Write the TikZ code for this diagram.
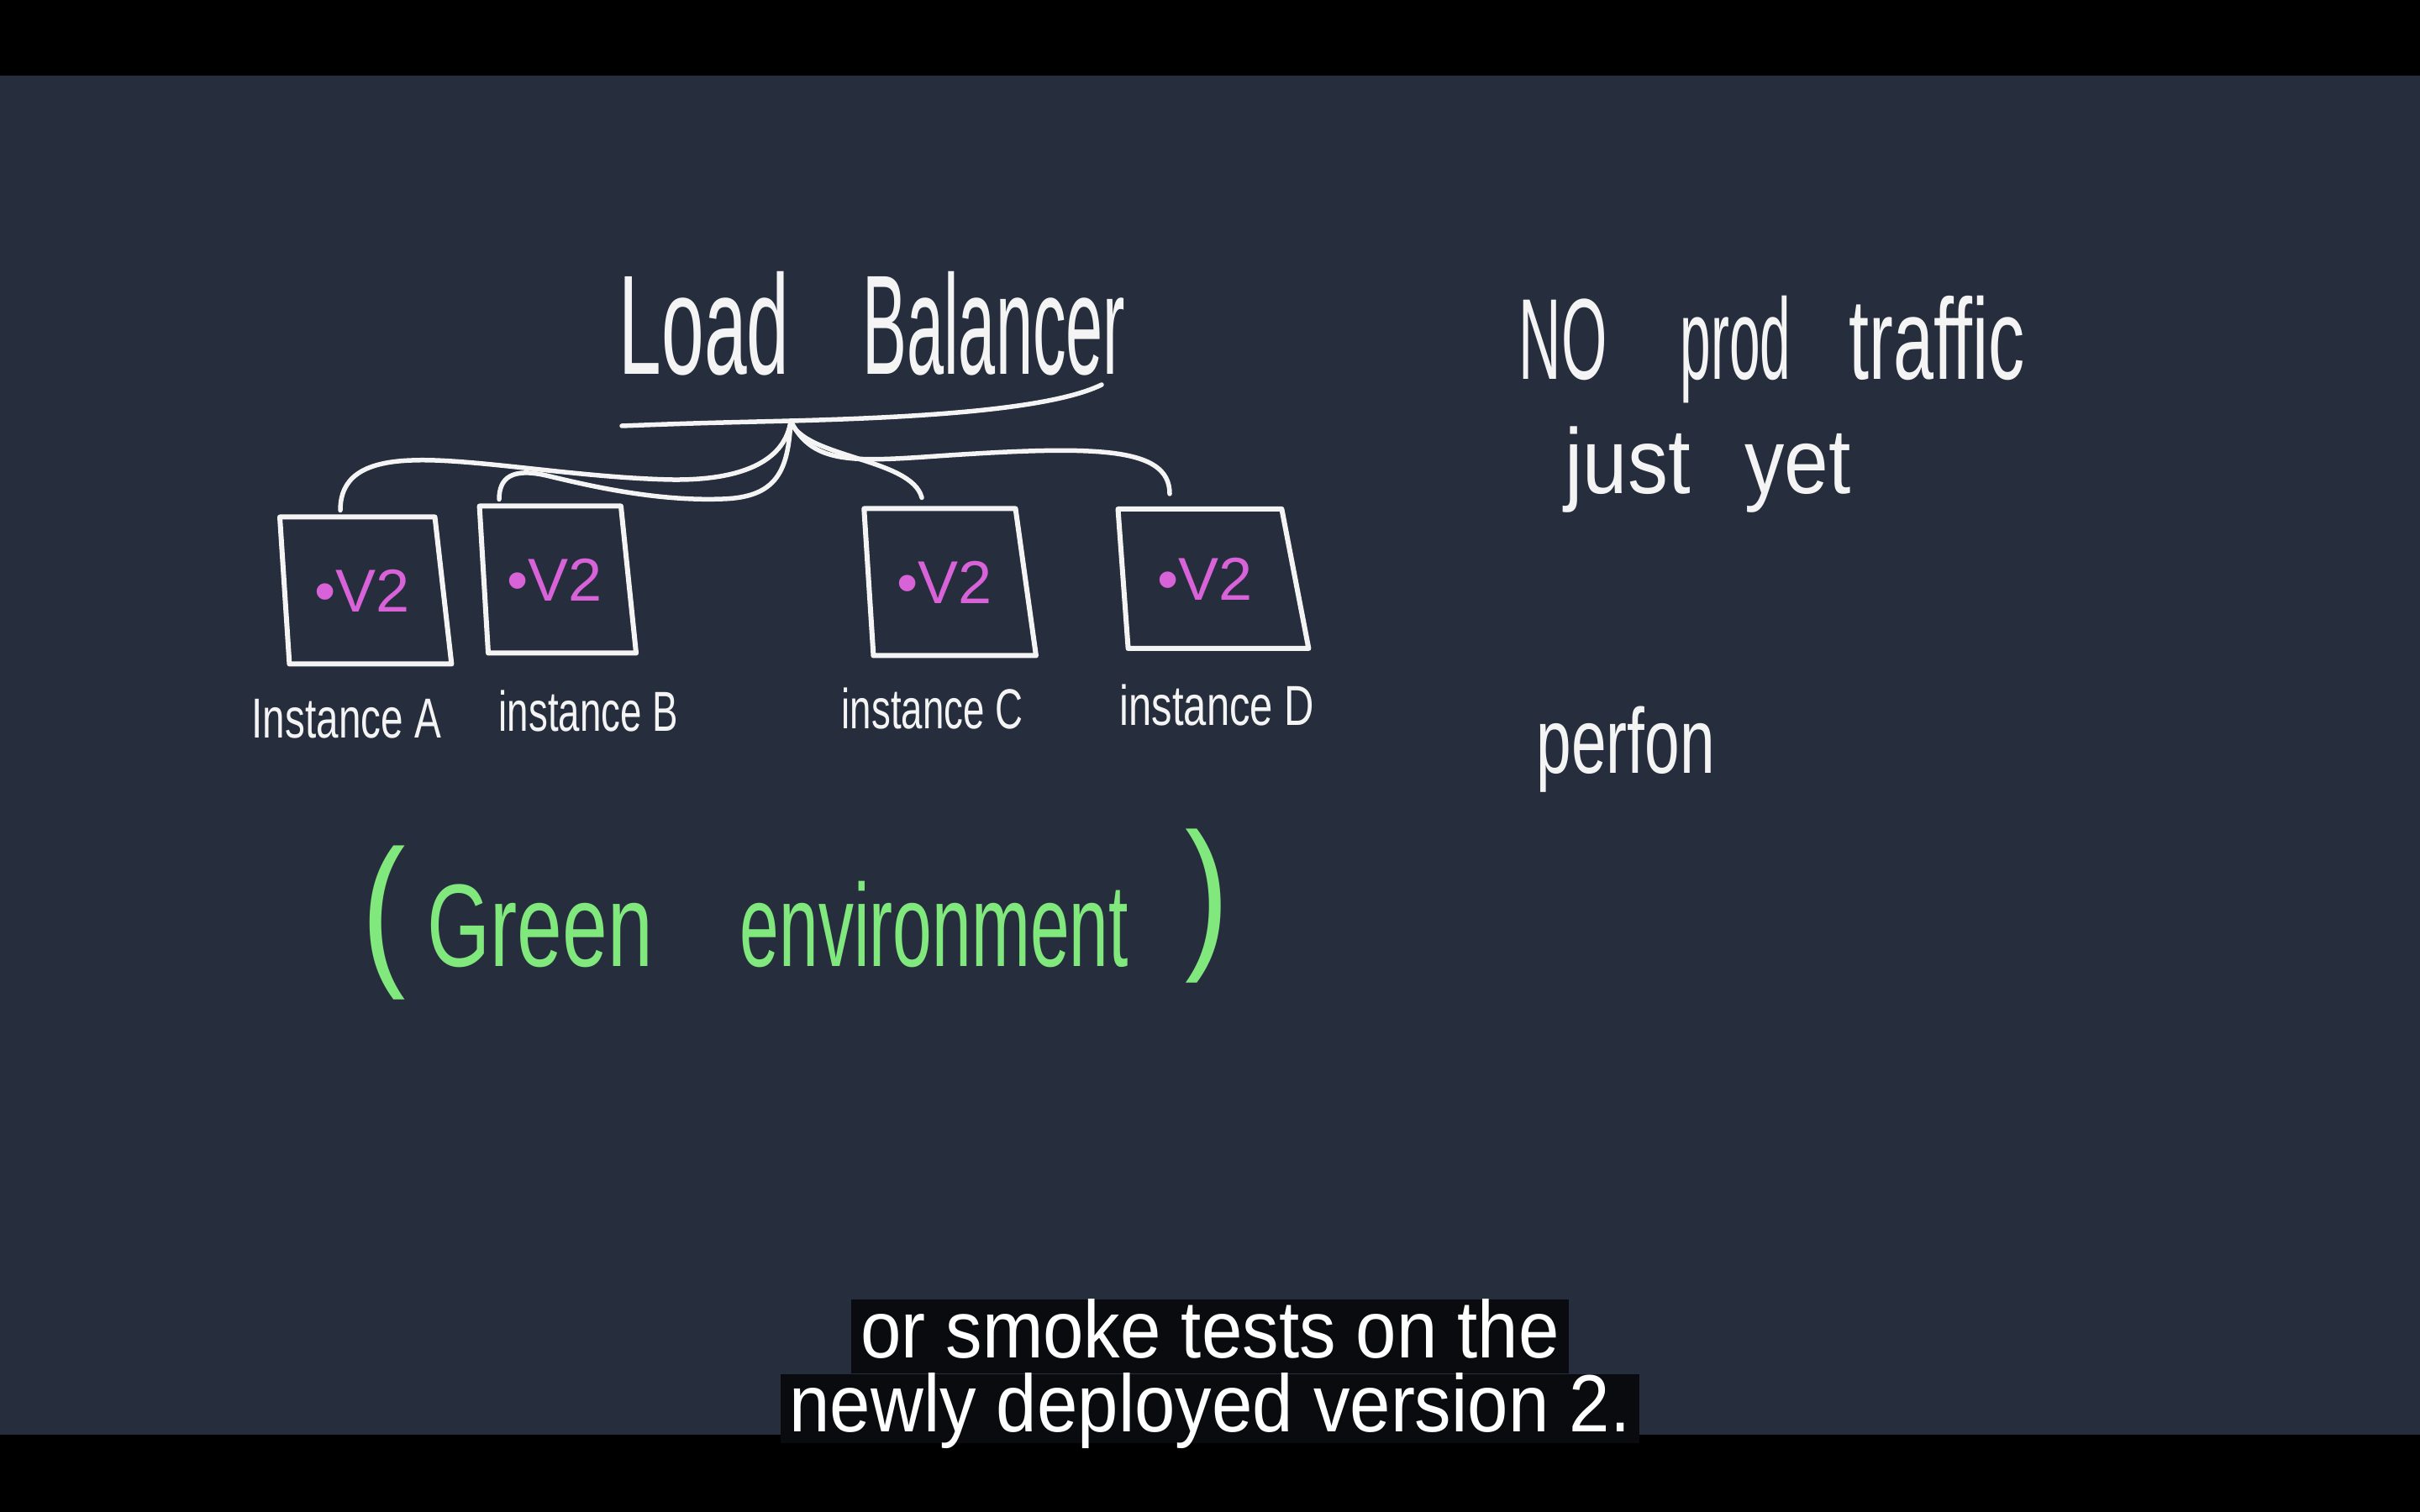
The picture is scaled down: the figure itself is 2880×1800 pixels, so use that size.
\documentclass[tikz,border=0pt]{standalone}
\usepackage{fontspec}
\setmainfont{Liberation Sans}
\usepackage{graphicx}
\usetikzlibrary{positioning,shapes.geometric}

\definecolor{board}{HTML}{262E3D}
\definecolor{capbox}{HTML}{0A0B0F}
\definecolor{chalk}{HTML}{F4F4F4}
\definecolor{vtwo}{HTML}{D862D8}
\definecolor{greenink}{HTML}{80E87C}

\newcommand{\squeeze}[2]{\scalebox{#1}[1]{#2}}

\begin{document}
\begin{tikzpicture}[
    x=0.1mm, y=-0.1mm,
    hand/.style={text=chalk, inner sep=0pt, anchor=base west},
    server/.style={shape=trapezium, draw=chalk, line width=0.6mm, line join=round,
                   trapezium left angle=97, trapezium right angle=78,
                   trapezium stretches=true, minimum height=17.5mm,
                   text=vtwo, font=\fontsize{20.5}{24}\selectfont},
    link/.style={draw=chalk, line width=0.55mm, line cap=round},
    caption/.style={fill=capbox, text=white, inner xsep=1.1mm, inner ysep=0pt,
                    font=\fontsize{27.5}{32}\selectfont}
]
% board and letterbox bars
\fill[board] (0,0) rectangle (2880,1800);
\fill[black] (0,0) rectangle (2880,90);
\fill[black] (0,1708) rectangle (2880,1800);

% load balancer
\node[hand, font=\fontsize{48}{54}\selectfont] (lbtitle) at (736,446)
    {\squeeze{0.54}{Load}\hspace{8.7mm}\squeeze{0.47}{Balancer}};
\coordinate (hub) at (941,501);
\draw[link] (740,507) .. controls (820,504) .. (hub)
    .. controls (1090,497) and (1250,488) .. (1311,458);

% green instances
\node[server, minimum width=20.5mm] (boxA) at (431,703) {\textbullet V2};
\node[server, minimum width=18.7mm] (boxB) at (660,690) {\textbullet V2};
\node[server, minimum width=20.5mm, trapezium right angle=75] (boxC) at (1124,693) {\textbullet V2};
\node[server, minimum width=22.8mm, minimum height=16.6mm,
      trapezium right angle=72] (boxD) at (1434,689) {\textbullet V2};

\node[hand, font=\fontsize{19.1}{22}\selectfont] (labA) at (299,878) {\squeeze{0.71}{Instance A}};
\node[hand, font=\fontsize{19.1}{22}\selectfont] (labB) at (593,870) {\squeeze{0.68}{instance B}};
\node[hand, font=\fontsize{19.1}{22}\selectfont] (labC) at (1001,867) {\squeeze{0.68}{instance C}};
\node[hand, font=\fontsize{19.1}{22}\selectfont] (labD) at (1332,863) {\squeeze{0.73}{instance D}};

\draw[link] (hub) .. controls (935,545) and (890,572) .. (800,571)
    .. controls (690,569) and (560,545) .. (490,548)
    .. controls (430,550) and (405,570) .. ([xshift=-2.6mm,yshift=0.5mm]boxA.north);
\draw[link] (hub) .. controls (938,560) and (925,592) .. (860,594)
    .. controls (780,597) and (700,578) .. (650,566)
    .. controls (610,557) and (594,568) .. ([xshift=-6.6mm,yshift=0.5mm]boxB.north);
\draw[link] (hub) .. controls (955,545) and (1085,545) .. ([xshift=-2.7mm,yshift=1mm]boxC.north);
\draw[link] (hub) .. controls (965,550) and (1010,550) .. (1100,544)
    .. controls (1300,530) and (1392,530) .. ([xshift=-4.2mm,yshift=1.5mm]boxD.north);

% environment tag
\node[hand, text=greenink, font=\fontsize{56}{60}\selectfont] (lparen) at (430,1149) {\squeeze{0.8}{(}};
\node[hand, text=greenink, font=\fontsize{39.8}{44}\selectfont] (greenenv) at (508,1150)
    {\squeeze{0.69}{Green}\hspace{10.4mm}\squeeze{0.6}{environment}};
\node[hand, text=greenink, font=\fontsize{56}{60}\selectfont] (rparen) at (1410,1129) {\squeeze{0.8}{)}};

% notes on the right
\node[hand, font=\fontsize{39}{44}\selectfont] (noprod) at (1807,452)
    {\squeeze{0.51}{NO}\hspace{8.7mm}\squeeze{0.48}{prod}\hspace{6.9mm}\squeeze{0.63}{traffic}};
\node[hand, font=\fontsize{31.3}{36}\selectfont] (justyet) at (1862,588)
    {\squeeze{0.87}{just}\hspace{6.5mm}\squeeze{0.86}{yet}};
\node[hand, font=\fontsize{31.3}{36}\selectfont] (perfon) at (1828,920) {\squeeze{0.68}{perfon}};

% subtitles
\node[caption, text height=6.9mm, text depth=1.9mm] (capone) at (1440,1591)
    {\squeeze{0.9}{or smoke tests on the}};
\node[caption, text height=6.8mm, text depth=1.4mm, below=0pt of capone] (captwo)
    {\squeeze{0.9}{newly deployed version 2.}};
\end{tikzpicture}
\end{document}
